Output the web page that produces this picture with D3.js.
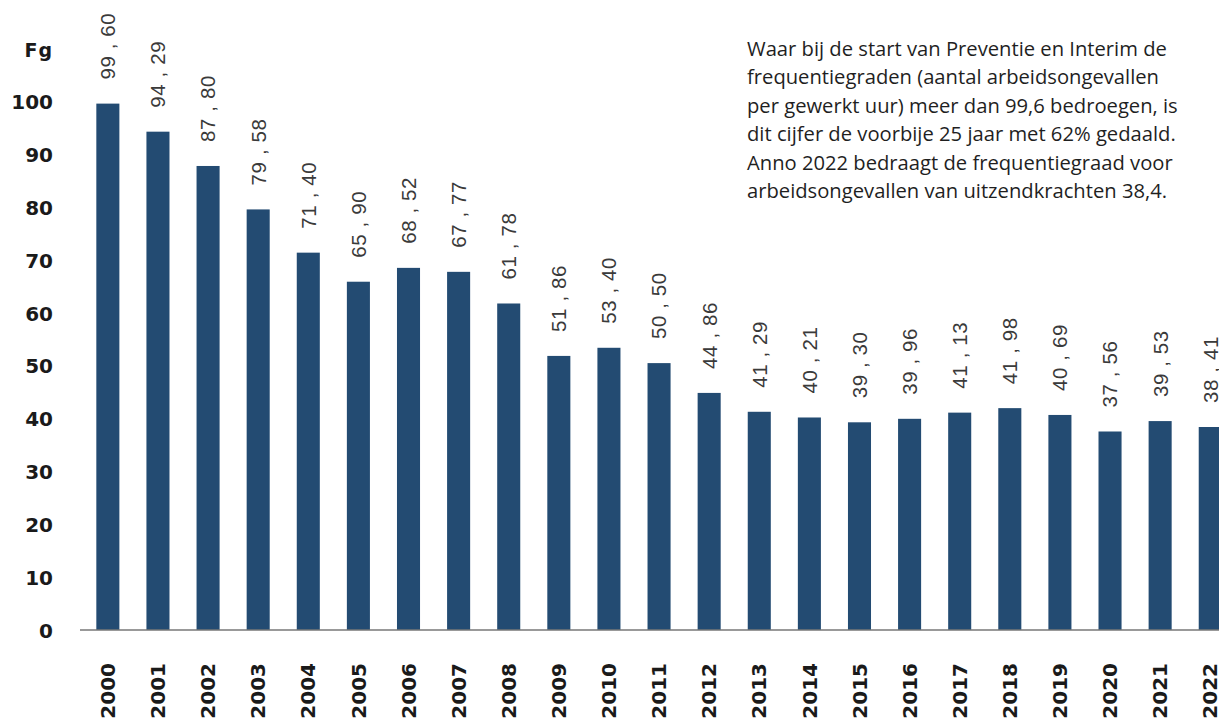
<!DOCTYPE html>
<html>
<head>
<meta charset="utf-8">
<script src="https://cdn.jsdelivr.net/npm/d3@7"></script>
<style>
  body { margin: 0; background: #fff; }
  svg { display: block; }
</style>
</head>
<body>
<script>
const years = ["2000","2001","2002","2003","2004","2005","2006","2007","2008","2009","2010","2011",
  "2012","2013","2014","2015","2016","2017","2018","2019","2020","2021","2022"];
const values = [99.60, 94.29, 87.80, 79.58, 71.40, 65.90, 68.52, 67.77, 61.78, 51.86, 53.40, 50.50,
  44.86, 41.29, 40.21, 39.30, 39.96, 41.13, 41.98, 40.69, 37.56, 39.53, 38.41];
const yTicks = [0, 10, 20, 30, 40, 50, 60, 70, 80, 90, 100];
const yTitle = "Fg";
const note = [
  "Waar bij de start van Preventie en Interim de",
  "frequentiegraden (aantal arbeidsongevallen",
  "per gewerkt uur) meer dan 99,6 bedroegen, is",
  "dit cijfer de voorbije 25 jaar met 62% gedaald.",
  "Anno 2022 bedraagt de frequentiegraad voor",
  "arbeidsongevallen van uitzendkrachten 38,4."
];

const width = 1219, height = 724;
const barColor = "#234b72";

const svg = d3.select("body").append("svg")
    .attr("width", width)
    .attr("height", height);

const x = d3.scaleBand()
    .domain(years)
    .range([82.8, 1235.3])
    .paddingInner(0.54)
    .paddingOuter(0.27);

const y = d3.scaleLinear()
    .domain([0, 100])
    .range([630, 101.5]);

// bars
svg.append("g")
  .selectAll("rect")
  .data(values)
  .join("rect")
    .attr("x", (d, i) => x(years[i]))
    .attr("width", x.bandwidth())
    .attr("y", d => y(d))
    .attr("height", d => y(0) - y(d))
    .attr("fill", barColor);

// baseline
svg.append("line")
    .attr("x1", 80).attr("x2", width)
    .attr("y1", y(0)).attr("y2", y(0))
    .attr("stroke", "#777")
    .attr("stroke-width", 1.3);

// y axis labels
const yAxis = svg.append("g")
    .attr("transform", "translate(53,0)")
    .call(d3.axisLeft(y).tickValues(yTicks).tickSize(0).tickPadding(0))
    .call(g => g.select(".domain").remove());
yAxis.selectAll("text")
    .attr("font-family", "DejaVu Sans")
    .attr("font-weight", "bold")
    .attr("font-size", 20)
    .attr("fill", "#1a1a1a")
    .attr("dy", "0.36em");

svg.append("text")
    .attr("x", 53).attr("y", 57)
    .attr("text-anchor", "end")
    .attr("font-family", "DejaVu Sans")
    .attr("font-weight", "bold")
    .attr("font-size", 19)
    .attr("letter-spacing", 1)
    .attr("fill", "#1a1a1a")
    .text(yTitle);

// x labels (rotated)
svg.append("g")
  .selectAll("text")
  .data(years)
  .join("text")
    .attr("transform", d => `translate(${x(d) + x.bandwidth() / 2},663) rotate(-90)`)
    .attr("text-anchor", "end")
    .attr("dy", "0.36em")
    .attr("font-family", "DejaVu Sans")
    .attr("font-weight", "bold")
    .attr("font-size", 20)
    .attr("fill", "#1a1a1a")
    .text(d => d);

// value labels (rotated)
svg.append("g")
  .selectAll("text")
  .data(values)
  .join("text")
    .attr("transform", (d, i) => `translate(${x(years[i]) + x.bandwidth() / 2},${y(d) - 24}) rotate(-90)`)
    .attr("dy", "0.36em")
    .attr("font-family", "Liberation Sans")
    .attr("font-size", 20.5)
    .attr("letter-spacing", 0.6)
    .attr("fill", "#3a3a3a")
    .text(d => d3.format(".2f")(d).replace(".", " , "));

// annotation
svg.append("text")
    .attr("font-family", "Open Sans")
    .attr("font-size", 20.2)
    .attr("fill", "#1f1f1f")
  .selectAll("tspan")
  .data(note)
  .join("tspan")
    .attr("x", 747)
    .attr("y", (d, i) => 56 + i * 28.4)
    .text(d => d);
</script>
</body>
</html>
